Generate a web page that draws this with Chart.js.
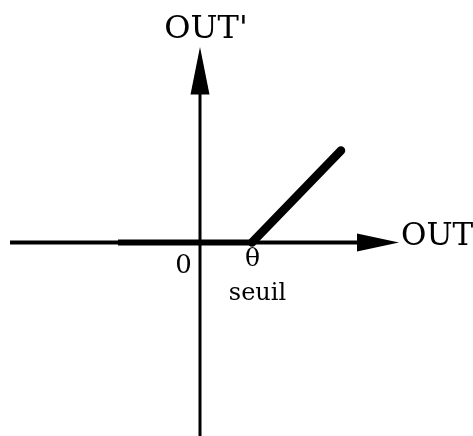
<!DOCTYPE html>
<html>
<head>
<meta charset="utf-8">
<script src="https://cdn.jsdelivr.net/npm/chart.js@4/dist/chart.umd.min.js"></script>
<style>
html,body{margin:0;padding:0;background:#fff;}
canvas{display:block;}
</style>
</head>
<body>
<canvas id="c" width="473" height="436"></canvas>
<script>
// Data (units: origin at 0,0; threshold θ on the OUT axis)
const thresholdX = 5.2;
const flatX = [-8.2, 5.2];
const flatY = [0, 0];
const riseX = [5.2, 14.1];
const riseY = [0, 9.2];
const outAxisX = [-19.0, 16.0];
const outPrimeAxisY = [-19.6, 15.4];
const outArrowX = [15.7, 19.9, 15.7];
const outArrowY = [0.9, 0, -0.9];
const outPrimeArrowX = [-0.95, 0, 0.95];
const outPrimeArrowY = [14.8, 19.55, 14.8];
const labelTexts = ["OUT'", "OUT", "0", "θ", "seuil"];
const labelX = [0.6, 20.1, -1.65, 5.25, 5.75];
const labelY = [20.45, -0.25, -3.05, -2.35, -5.75];
const labelFonts = ["32px 'DejaVu Serif'", "31px 'DejaVu Serif'", "26px 'DejaVu Serif'", "25px 'DejaVu Serif'", "24px 'DejaVu Serif'"];
const labelAlign = ["center", "left", "center", "center", "center"];

const pts = (xs, ys) => xs.map((x, i) => ({x: x, y: ys[i]}));

const arrowPlugin = {
  id: 'arrowsAndLabels',
  afterDatasetsDraw(chart) {
    const ctx = chart.ctx, sx = chart.scales.x, sy = chart.scales.y;
    const poly = (xs, ys) => {
      ctx.beginPath();
      xs.forEach((x, i) => {
        const px = sx.getPixelForValue(x), py = sy.getPixelForValue(ys[i]);
        if (i === 0) ctx.moveTo(px, py); else ctx.lineTo(px, py);
      });
      ctx.closePath();
      ctx.fillStyle = '#000';
      ctx.fill();
    };
    ctx.save();
    poly(outArrowX, outArrowY);
    poly(outPrimeArrowX, outPrimeArrowY);
    ctx.fillStyle = '#000';
    ctx.textBaseline = 'alphabetic';
    labelTexts.forEach((t, i) => {
      ctx.font = labelFonts[i];
      ctx.textAlign = labelAlign[i];
      ctx.fillText(t, sx.getPixelForValue(labelX[i]), sy.getPixelForValue(labelY[i]));
    });
    ctx.restore();
  }
};

new Chart(document.getElementById('c'), {
  type: 'scatter',
  data: {
    datasets: [
      {data: pts(outAxisX, [0, 0]), showLine: true, borderColor: '#000', borderWidth: 4, pointRadius: 0},
      {data: pts([0, 0], outPrimeAxisY), showLine: true, borderColor: '#000', borderWidth: 3, pointRadius: 0},
      {data: pts(flatX, flatY), showLine: true, borderColor: '#000', borderWidth: 6, pointRadius: 0, borderCapStyle: 'butt'},
      {data: pts(riseX, riseY), showLine: true, borderColor: '#000', borderWidth: 8.5, pointRadius: 0, borderCapStyle: 'round'}
    ]
  },
  options: {
    responsive: false,
    devicePixelRatio: 1,
    animation: false,
    layout: {padding: 0},
    plugins: {legend: {display: false}, tooltip: {enabled: false}},
    scales: {
      x: {type: 'linear', display: false, min: -20, max: 27.3},
      y: {type: 'linear', display: false, min: -19.35, max: 24.25}
    }
  },
  plugins: [arrowPlugin]
});
</script>
</body>
</html>
